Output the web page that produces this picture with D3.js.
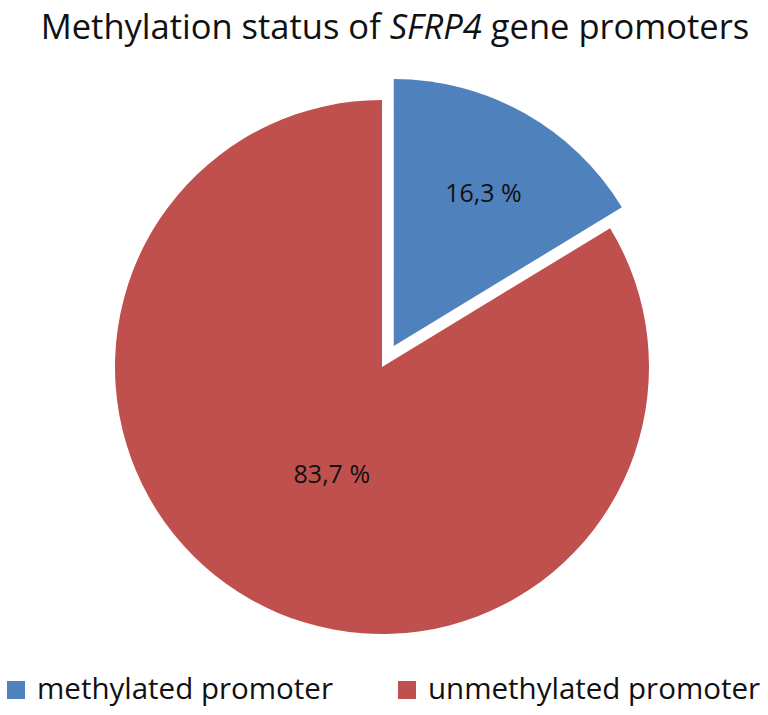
<!DOCTYPE html>
<html><head><meta charset="utf-8">
<script src="https://cdn.jsdelivr.net/npm/d3@7"></script>
<style>body{margin:0;background:#fff}svg{display:block}</style>
</head><body>
<script>
const categories = ["methylated promoter", "unmethylated promoter"];
const values = [16.3, 83.7];
const valueLabels = ["16,3 %", "83,7 %"];
const colors = ["#4F81BD", "#C0504D"];

const W = 768, H = 715;
const svg = d3.select("body").append("svg").attr("width", W).attr("height", H);
const font = "'Open Sans', sans-serif";

const title = svg.append("text").attr("x", 395).attr("y", 39).attr("text-anchor", "middle")
  .attr("font-family", font).attr("font-size", 34.5).attr("fill", "#111");
title.append("tspan").text("Methylation status of ");
title.append("tspan").attr("font-style", "italic").text("SFRP4");
title.append("tspan").text(" gene promoters");

const cx = 382, cy = 367, R = 267, explode = 24;
const pie = d3.pie().sort(null).value(d => d)(values);
const arc = d3.arc().innerRadius(0).outerRadius(R);
const g = svg.append("g").attr("transform", `translate(${cx},${cy})`);
const labelFrac = [0.655, 0.46];
const labelShift = [4, 10];

pie.forEach((p, i) => {
  const mid = (p.startAngle + p.endAngle) / 2;
  const off = i === 0 ? explode : 0;
  const ox = Math.sin(mid) * off, oy = -Math.cos(mid) * off;
  const sg = g.append("g").attr("transform", `translate(${ox},${oy})`);
  sg.append("path").attr("d", arc(p)).attr("fill", colors[i]);
  const lr = R * labelFrac[i];
  sg.append("text").attr("x", Math.sin(mid) * lr + labelShift[i]).attr("y", -Math.cos(mid) * lr)
    .attr("dy", "0.35em").attr("text-anchor", "middle")
    .attr("font-family", font).attr("font-size", 25).attr("fill", "#111")
    .text(valueLabels[i]);
});

const legX = [7, 398];
const leg = svg.append("g");
categories.forEach((c, i) => {
  leg.append("rect").attr("x", legX[i]).attr("y", 681).attr("width", 18).attr("height", 18).attr("fill", colors[i]);
  leg.append("text").attr("x", legX[i] + 30).attr("y", 699)
    .attr("font-family", font).attr("font-size", 29.5).attr("fill", "#111").text(c);
});
</script>
</body></html>
